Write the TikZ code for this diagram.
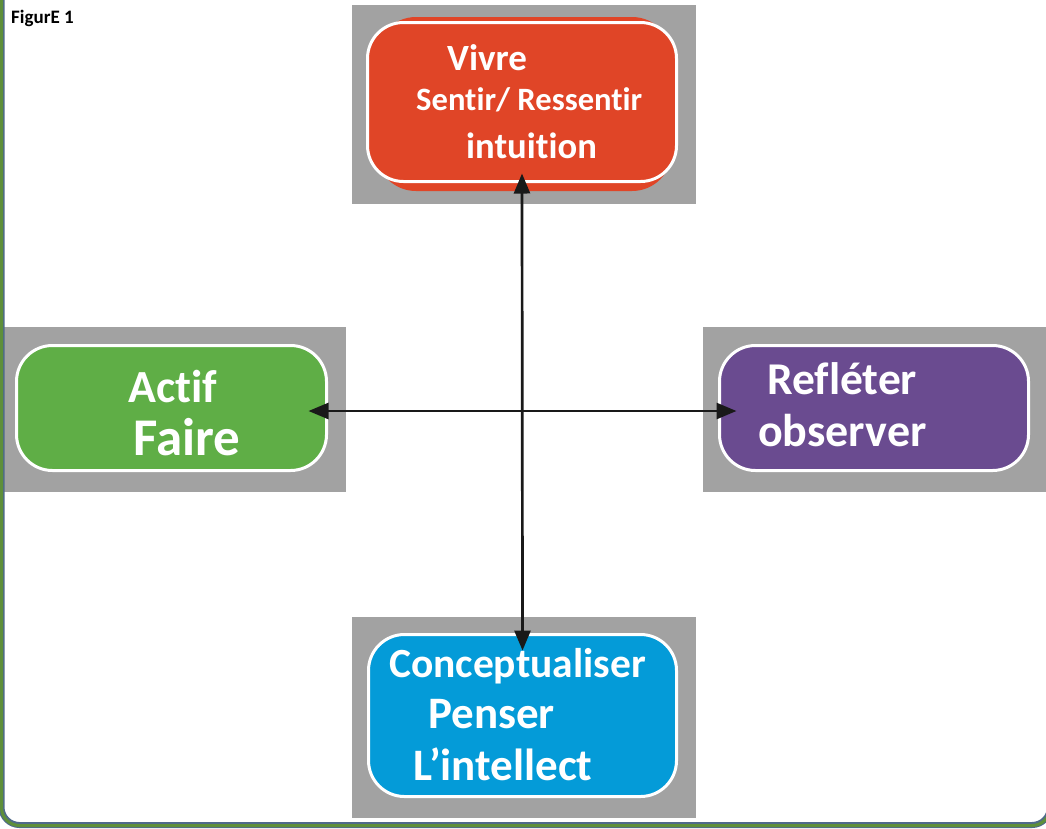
\documentclass[tikz,border=0pt]{standalone}
\usepackage{fontspec}
\setmainfont{Carlito}[Ligatures={NoCommon,NoContextual}]
\usetikzlibrary{arrows.meta}
\definecolor{cred}{HTML}{E04527}
\definecolor{cgreen}{HTML}{5FAE46}
\definecolor{cpurple}{HTML}{6A4B90}
\definecolor{cblue}{HTML}{049BD8}
\definecolor{cgray}{HTML}{A2A2A2}
\definecolor{cframe}{HTML}{5E8F3A}
\definecolor{cframeb}{HTML}{4E6A8A}
\begin{document}
\begin{tikzpicture}[x=1pt,y=-1pt,
  graybg/.style={fill=cgray, draw=none},
  card/.style={draw=white, line width=3pt, rounded corners=36pt, inner sep=0pt},
  lbl/.style={anchor=base west, inner sep=0pt, text=white, font=\bfseries},
  arr/.style={{Triangle[length=20pt,width=16pt]}-{Triangle[length=20pt,width=16pt]}, line width=2.7pt, draw=black!90}]
\useasboundingbox (0,0) rectangle (1046,828);
\fill[white] (0,0) rectangle (1046,828);
% gray backgrounds
\fill[graybg] (352,5) rectangle (696,204);
\fill[graybg] (0,327) rectangle (346,492);
\fill[graybg] (703,327) rectangle (1046,492);
\fill[graybg] (352,617) rectangle (696,818);
% boxes
\node[fill=cred, rounded corners=40pt, minimum width=296pt, minimum height=174pt, inner sep=0pt] (redback) at (524,104) {};
\node[card, fill=cred, minimum width=309pt, minimum height=159pt] (red) at (522,102) {};
\node[card, fill=cgreen, minimum width=310pt, minimum height=125pt] (green) at (171.5,408) {};
\node[card, fill=cpurple, minimum width=309pt, minimum height=125pt] (purple) at (874,408) {};
\node[card, fill=cblue, minimum width=308pt, minimum height=162pt] (blue) at (522.5,715.5) {};
% texts
\node[lbl, font=\bfseries\fontsize{37}{40}\selectfont] (t1) at (447,70) {Vivre};
\node[lbl, font=\bfseries\fontsize{32.6}{36}\selectfont] (t2) at (416,110) {Sentir/ Ressentir};
\node[lbl, font=\bfseries\fontsize{36.6}{40}\selectfont] (t3) at (466,158) {intuition};
\node[lbl, font=\bfseries\fontsize{46}{50}\selectfont] (t4) at (128,402) {Actif};
\node[lbl, font=\bfseries\fontsize{53}{56}\selectfont] (t5) at (133,455) {Faire};
\node[lbl, font=\bfseries\fontsize{45.5}{50}\selectfont] (t6) at (767,394) {Refléter};
\node[lbl, font=\bfseries\fontsize{46}{50}\selectfont] (t7) at (758,446) {observer};
\node[lbl, font=\bfseries\fontsize{41.5}{45}\selectfont] (t8) at (389,677) {Conceptualiser};
\node[lbl, font=\bfseries\fontsize{45}{50}\selectfont] (t9) at (428,728) {Penser};
\node[lbl, font=\bfseries\fontsize{45}{50}\selectfont] (t10) at (413,780) {L’intellect};
\node[anchor=base west, inner sep=0pt, font=\bfseries\fontsize{19}{22}\selectfont] (fig) at (11,23) {FigurE 1};
% frame
\draw[cframeb, line width=6pt, rounded corners=18pt] (1.5,-40) rectangle (1050,825);
\draw[cframe, line width=3pt, rounded corners=18pt] (1.5,-40) rectangle (1050,825.5);
% arrows
\draw[arr, shorten <=-9.5pt, shorten >=-17.5pt] (red.south) -- (blue.north);
\draw[arr, shorten <=-19.5pt, shorten >=-18.5pt] ([yshift=-3pt]green.east) -- ([yshift=-3pt]purple.west);
\end{tikzpicture}
\end{document}
